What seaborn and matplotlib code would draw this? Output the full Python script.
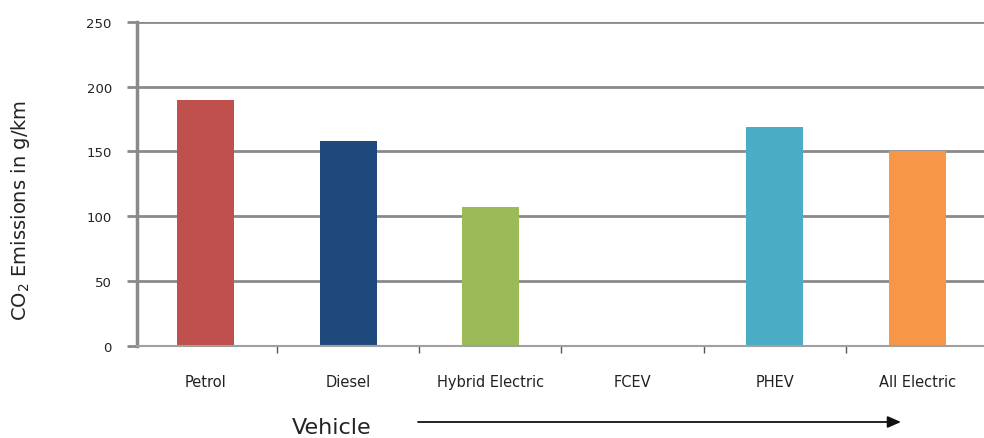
import numpy as np
import pandas as pd
import matplotlib
matplotlib.use("Agg")
import matplotlib.pyplot as plt
import seaborn as sns

vehicles = ["Petrol", "Diesel", "Hybrid Electric", "FCEV", "PHEV", "All Electric"]
emissions = [190, 158, 107, 0, 169, 150]
colors = ["#c0504d", "#1f497d", "#9bbb59", "#ffffff", "#4bacc6", "#f79646"]
y_ticks = [0, 50, 100, 150, 200, 250]

sns.set_style("white")
plt.rcParams["font.family"] = ["DejaVu Sans"]

df = pd.DataFrame({"vehicle": vehicles, "emissions": emissions})

fig = plt.figure(figsize=(9.84, 4.39), dpi=100)
ax = fig.add_axes([0.139, 0.21, 0.861, 0.738])

grid_c = "#8a8a8a"
text_c = "#222222"
for v in y_ticks[1:]:
    ax.axhline(v, color=grid_c, lw=2.0, zorder=0)

sns.barplot(data=df, x="vehicle", y="emissions", hue="vehicle",
            palette=colors, width=0.4, legend=False, ax=ax,
            saturation=1, linewidth=0, edgecolor="none", zorder=2)

ax.set_ylim(0, 250)
ax.set_xlim(-0.485, 5.47)
ax.set_yticks(y_ticks)
ax.set_yticklabels([str(v) for v in y_ticks], fontsize=9.5, color=text_c)
ax.set_xticks(range(len(vehicles)))
ax.set_xticklabels(vehicles, fontsize=10.5, color=text_c)
ax.tick_params(axis="x", which="major", length=0, pad=20)
ax.tick_params(axis="y", length=7, width=2, color=grid_c, pad=11, left=True)

# small tick marks at the category boundaries
ax.set_xticks(np.arange(0.5, 5, 1.0), minor=True)
ax.tick_params(axis="x", which="minor", bottom=True, length=5, width=1, color="#555555")

for side in ["top", "right"]:
    ax.spines[side].set_visible(False)
ax.spines["left"].set_color(grid_c)
ax.spines["left"].set_linewidth(2.5)
ax.spines["bottom"].set_color("#a0a0a0")
ax.spines["bottom"].set_linewidth(1.5)

ax.set_xlabel("")
ax.set_ylabel("")
fig.text(21 / 984, 1 - 210 / 439, "CO$_2$ Emissions in g/km", fontsize=14,
         color=text_c, rotation=90, ha="center", va="center")

fig.text(292 / 984, 1 - 428 / 439, "Vehicle", fontsize=16, color=text_c,
         ha="left", va="center")
fig.add_artist(matplotlib.patches.FancyArrowPatch(
    (418 / 984, 1 - 423 / 439), (901 / 984, 1 - 423 / 439), transform=fig.transFigure,
    arrowstyle="-|>,head_length=8,head_width=3.5", color="#111111", lw=1.3,
    shrinkA=0, shrinkB=0))

fig.savefig("out.png", dpi=100)
